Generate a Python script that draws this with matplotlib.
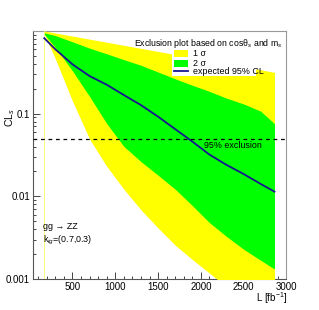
import matplotlib
matplotlib.use("Agg")
import matplotlib.pyplot as plt
import numpy as np
from matplotlib.patches import Rectangle
from matplotlib.lines import Line2D

plt.rcParams['font.family'] = ['Liberation Sans', 'DejaVu Sans']
plt.rcParams['mathtext.fontset'] = 'custom'
plt.rcParams['mathtext.rm'] = 'Liberation Sans'
plt.rcParams['mathtext.it'] = 'Liberation Sans:italic'

# luminosity points [fb^-1]
lumi = [170, 300, 500, 700, 900, 1100, 1300, 1500, 1700, 1900, 2100, 2300, 2500, 2700, 2860]
# expected CLs
cls_exp = [0.82, 0.60, 0.395, 0.285, 0.224, 0.168, 0.127, 0.092, 0.065, 0.046, 0.032, 0.024, 0.0186, 0.0141, 0.0114]
# green band
green_hi = [0.95, 0.88, 0.74, 0.62, 0.53, 0.45, 0.385, 0.319, 0.264, 0.221, 0.186, 0.154, 0.131, 0.107, 0.0757]
green_lo = [0.917, 0.630, 0.329, 0.161, 0.0759, 0.0402, 0.0263, 0.0180, 0.0122, 0.00774, 0.00481, 0.00327, 0.00229, 0.00168, 0.00132]
# yellow band
yellow_hi = [1.0, 0.946, 0.868, 0.797, 0.732, 0.671, 0.616, 0.566, 0.520, 0.477, 0.438, 0.402, 0.369, 0.339, 0.316]
yellow_lo = [0.917, 0.461, 0.142, 0.0493, 0.0231, 0.0122, 0.00687, 0.00414, 0.00257, 0.00172, 0.00118, 0.0008, 0.0006, 0.00045, 0.00035]
cl_limit = 0.05

fig = plt.figure(figsize=(3.19, 3.10), dpi=100)
ax = fig.add_axes([0.1025, 0.1, 0.7955, 0.8])

ax.fill_between(lumi, yellow_lo, yellow_hi, color='#ffff00', lw=0, zorder=3)
ax.fill_between(lumi, green_lo, green_hi, color='#00ff00', lw=0, zorder=3)
ax.plot([lumi[0], lumi[0]], [1e-4, yellow_hi[0]], color='#ffff66', lw=0.6, zorder=3)
ax.plot(lumi, cls_exp, color='#161690', lw=1.3, zorder=4)
ax.axhline(cl_limit, color='black', ls=(0, (3, 3)), lw=0.9, zorder=4)

ax.set_yscale('log')
ax.set_xlim(35, 3000)
ax.set_ylim(0.001, 1)
ax.set_yticks([0.001, 0.01, 0.1])
ax.set_yticklabels(['0.001', '0.01', '0.1'])
ax.set_xticks([500, 1000, 1500, 2000, 2500, 3000])
ax.set_xticks(np.arange(100, 3000, 100), minor=True)
ax.tick_params(which='both', direction='in', labelsize=7, colors='#444444', labelcolor='black', width=0.7)
ax.tick_params(which='major', length=5, pad=2)
ax.tick_params(which='minor', length=2.5)
ax.tick_params(axis='y', which='minor', labelleft=False)
for s in ['left', 'bottom']:
    ax.spines[s].set_color('#555555')
    ax.spines[s].set_linewidth(0.8)
for s in ['top', 'right']:
    ax.spines[s].set_color('#999999')
    ax.spines[s].set_linewidth(0.8)

# legend drawn by hand
ax.text(0.4, 0.95, 'Exclusion plot based on cosθ$_s$ and m$_s$', transform=ax.transAxes,
        fontsize=6.3, va='center', ha='left', zorder=6)
ax.add_patch(Rectangle((0.549, 0.82), 0.33, 0.115, transform=ax.transAxes,
                       facecolor='white', edgecolor='none', zorder=5))
ax.add_patch(Rectangle((0.557, 0.895), 0.055, 0.028, transform=ax.transAxes,
                       facecolor='#ffff00', edgecolor='none', zorder=6))
ax.add_patch(Rectangle((0.557, 0.855), 0.055, 0.028, transform=ax.transAxes,
                       facecolor='#00ff00', edgecolor='none', zorder=6))
ax.add_line(Line2D([0.557, 0.612], [0.838, 0.838], transform=ax.transAxes,
                   color='#161690', lw=1.3, zorder=6))
ax.text(0.632, 0.909, '1 σ', transform=ax.transAxes, fontsize=6.4, va='center', zorder=6)
ax.text(0.632, 0.869, '2 σ', transform=ax.transAxes, fontsize=6.4, va='center', zorder=6)
ax.text(0.632, 0.838, 'expected 95% CL', transform=ax.transAxes, fontsize=6.4, va='center', zorder=6)

ax.text(2040, 0.041, '95% exclusion', fontsize=6.4, va='center', ha='left', zorder=6)
ax.text(0.04, 0.21, 'gg → ZZ', transform=ax.transAxes, fontsize=6.4, va='center', zorder=6)
ax.text(0.04, 0.157, 'k$_{ig}$=(0.7,0.3)', transform=ax.transAxes, fontsize=6.4, va='center', zorder=6)

fig.text(287 / 319, 1 - 298 / 310, 'L [fb$^{-1}$]', fontsize=7, ha='right', va='center')
fig.text(10 / 319, 1 - 118 / 310, 'CL$_s$', fontsize=7.5, rotation=90, ha='center', va='center')

fig.savefig('out.png', dpi=100)
